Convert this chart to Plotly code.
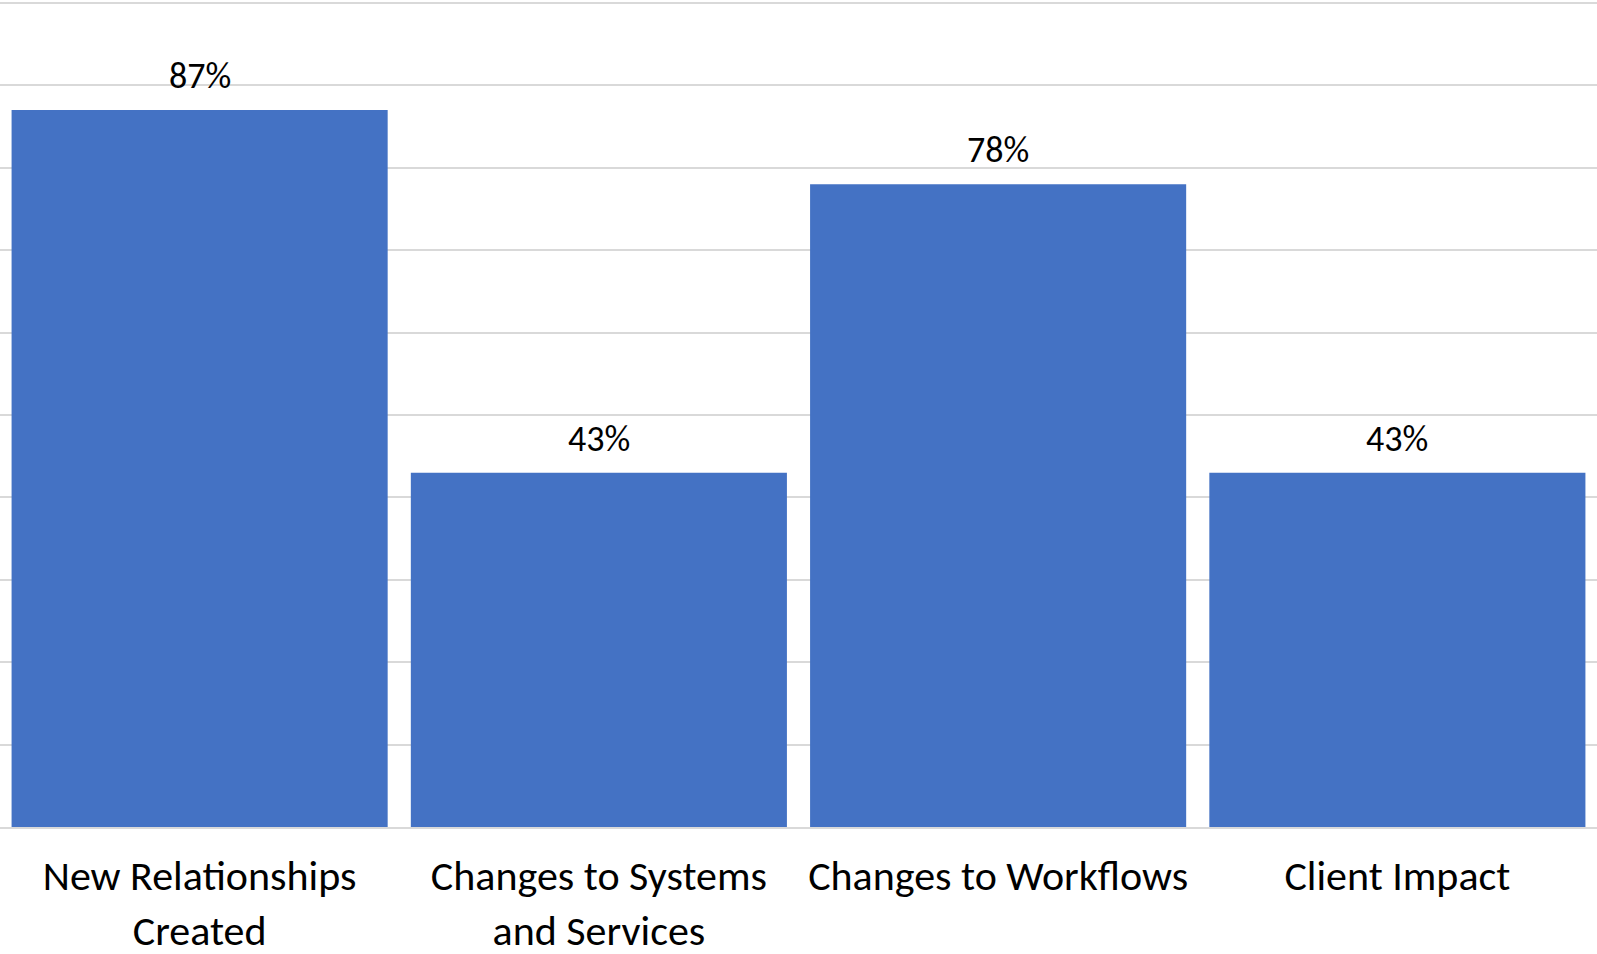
import plotly.graph_objects as go

categories = [
    "New Relationships<br>Created",
    "Changes to Systems<br>and Services",
    "Changes to Workflows",
    "Client Impact",
]
values = [0.87, 0.43, 0.78, 0.43]
value_labels = ["87%", "43%", "78%", "43%"]

FONT = "Carlito, Lato, 'Open Sans', sans-serif"
BAR_COLOR = "#4472C4"
GRID_COLOR = "#D9D9D9"

fig = go.Figure(
    go.Bar(
        x=categories,
        y=values,
        marker=dict(color=BAR_COLOR, line=dict(width=0)),
        hoverinfo="skip",
    )
)

# value labels placed just above each bar
for cat, val, lab in zip(categories, values, value_labels):
    fig.add_annotation(
        x=cat, y=val, text=lab, showarrow=False,
        xanchor="center", yanchor="bottom", yshift=10,
        font=dict(family=FONT, size=36, color="#000000"),
    )

fig.update_layout(
    width=1597, height=954,
    margin=dict(l=0, r=0, t=1, b=127, autoexpand=False),
    paper_bgcolor="white", plot_bgcolor="white",
    bargap=0.058,
    showlegend=False,
)
fig.update_xaxes(
    automargin=False,
    showgrid=False,
    showline=True, linecolor=GRID_COLOR, linewidth=2,
    ticks="outside", ticklen=11, tickcolor="rgba(0,0,0,0)",
    tickfont=dict(family=FONT, size=42, color="#000000"),
)
fig.update_yaxes(
    automargin=False,
    range=[0, 1.00243], dtick=0.1,
    showgrid=True, gridcolor=GRID_COLOR, gridwidth=2,
    zeroline=False, showticklabels=False, ticks="",
)

fig.write_html("out.html")
